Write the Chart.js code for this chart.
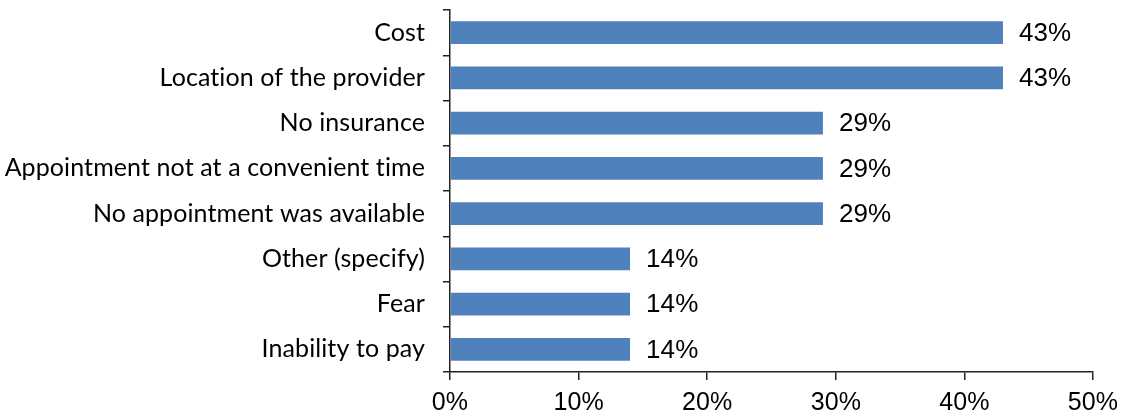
<!DOCTYPE html>
<html>
<head>
<meta charset="utf-8">
<script src="https://cdn.jsdelivr.net/npm/chart.js@4"></script>
<style>
  body { margin: 0; background: #fff; }
  #wrap { width: 1123px; height: 418px; }
</style>
</head>
<body>
<div id="wrap"><canvas id="barChart" width="1123" height="418"></canvas></div>
<script>
// Categories and values (percent of respondents)
const categories = [
  "Cost",
  "Location of the provider",
  "No insurance",
  "Appointment not at a convenient time",
  "No appointment was available",
  "Other (specify)",
  "Fear",
  "Inability to pay"
];
const values = [43, 43, 29, 29, 29, 14, 14, 14];
const xTicks = [0, 10, 20, 30, 40, 50];

// Tiny letter spacing keeps Lato from drawing "ti" ligatures
const noLigatures = {
  id: "noLigatures",
  beforeDraw(chart) {
    chart.ctx.letterSpacing = "0.1px";
  }
};

// Simple value labels at the end of each bar
const barLabels = {
  id: "barLabels",
  afterDatasetsDraw(chart) {
    const ctx = chart.ctx;
    ctx.save();
    ctx.font = "26px 'Liberation Sans', Arial, sans-serif";
    ctx.fillStyle = "#000";
    ctx.textAlign = "left";
    ctx.textBaseline = "middle";
    chart.getDatasetMeta(0).data.forEach((bar, i) => {
      ctx.fillText(values[i] + "%", bar.x + 16, bar.y + 1);
    });
    ctx.restore();
  }
};

var ctx = document.getElementById("barChart").getContext("2d");

var barChart = new Chart(ctx, {
  type: "bar",
  data: {
    labels: categories,
    datasets: [
      {
        data: values,
        backgroundColor: "#4F81BD",
        barPercentage: 0.5,
        categoryPercentage: 1.0,
      }
    ],
  },
  options: {
    indexAxis: "y",
    responsive: false,
    animation: false,
    layout: { padding: { top: 10, right: 30, left: 0, bottom: 0 } },
    plugins: {
      legend: { display: false },
      tooltip: { enabled: false },
    },
    scales: {
      x: {
        min: 0,
        max: 50,
        afterBuildTicks: (axis) => { axis.ticks = xTicks.map(v => ({ value: v })); },
        afterFit: (axis) => {
          axis.height = 46;
          axis.paddingRight = 0;
        },
        border: { color: "#222", width: 1.5 },
        grid: { drawOnChartArea: false, tickLength: 8, color: "#222", lineWidth: 1.5 },
        ticks: {
          color: "#000",
          padding: 8,
          font: { size: 25, family: "'Liberation Sans', Arial, sans-serif" },
          callback: (v) => v + "%",
        },
      },
      y: {
        afterFit: (axis) => {
          axis.width = 450;
          axis.paddingTop = 0;
          axis.paddingBottom = 0;
        },
        border: { color: "#222", width: 1.5 },
        grid: { offset: true, drawOnChartArea: false, tickLength: 7, color: "#222", lineWidth: 1.5 },
        ticks: {
          color: "#000",
          padding: 18,
          font: { size: 25, family: "Lato, 'Open Sans', sans-serif" },
        },
      },
    },
  },
  plugins: [noLigatures, barLabels],
});
</script>
</body>
</html>
